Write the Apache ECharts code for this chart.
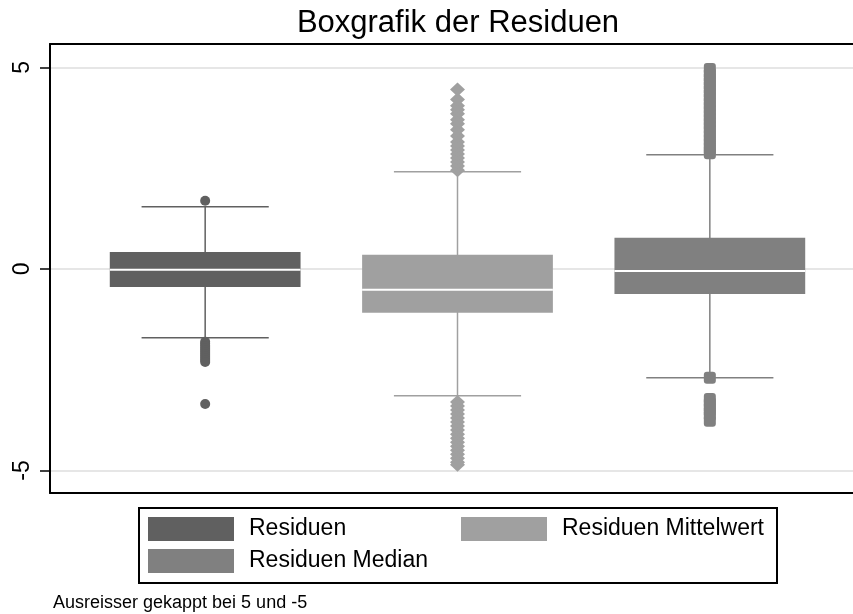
<!DOCTYPE html>
<html>
<head>
<meta charset="utf-8">
<script src="https://cdn.jsdelivr.net/npm/echarts@6/dist/echarts.min.js"></script>
<style>
  html, body { margin: 0; background: #fff; }
  #main { width: 853px; height: 614px; }
</style>
</head>
<body>
<div id="main"></div>
<script>
var categories = ['Residuen', 'Residuen Mittelwert', 'Residuen Median'];

// [unterer Whisker, Q1, Median, Q3, oberer Whisker]
var boxResiduen = [-1.71, -0.45, -0.02, 0.42, 1.54];
var boxMittelwert = [-3.15, -1.09, -0.52, 0.35, 2.41];
var boxMedian = [-2.70, -0.62, -0.05, 0.77, 2.83];

// Ausreisser (gekappt bei 5 und -5)
var outResiduen = [1.69, -1.81, -1.86, -1.91, -1.96, -2.01, -2.06, -2.11, -2.16, -2.21, -2.26, -2.31, -3.35];
var outMittelwert = [2.45, 2.55, 2.65, 2.75, 2.85, 2.95, 3.05, 3.15, 3.3, 3.45, 3.6, 3.7, 3.85, 3.95, 4.05, 4.2, 4.45,
  -3.3, -3.4, -3.5, -3.6, -3.7, -3.8, -3.9, -4.0, -4.1, -4.2, -4.3, -4.4, -4.5, -4.6, -4.7, -4.8, -4.86];
var outMedian = [2.87, 2.95, 3.05, 3.15, 3.25, 3.35, 3.45, 3.55, 3.65, 3.75, 3.85, 3.95, 4.05, 4.15, 4.25, 4.35,
  4.45, 4.55, 4.65, 4.75, 4.85, 4.96, -2.70, -3.23, -3.33, -3.43, -3.53, -3.63, -3.77];

var yTicks = [-5, 0, 5];
var colors = ['#606060', '#a0a0a0', '#808080'];
var symbols = ['circle', 'diamond', 'roundRect'];
var symbolSizes = [10, [15, 14], 12];

var font = "'Liberation Sans', Arial, sans-serif";
var chart = echarts.init(document.getElementById('main'));

function renderBox(params, api) {
  var x = api.value(0);
  var lo = api.coord([x, api.value(1)]);
  var q1 = api.coord([x, api.value(2)]);
  var med = api.coord([x, api.value(3)]);
  var q3 = api.coord([x, api.value(4)]);
  var hi = api.coord([x, api.value(5)]);
  var band = api.size([1, 0])[0];
  var half = band * 0.378;   // Boxbreite
  var cap = band * 0.252;    // Whisker-Enden
  var cx = lo[0];
  var color = api.visual('color');
  var line = { stroke: color, lineWidth: 1.5 };
  return {
    type: 'group',
    children: [
      { type: 'line', shape: { x1: cx, y1: hi[1], x2: cx, y2: lo[1] }, style: line },
      { type: 'line', shape: { x1: cx - cap, y1: hi[1], x2: cx + cap, y2: hi[1] }, style: line },
      { type: 'line', shape: { x1: cx - cap, y1: lo[1], x2: cx + cap, y2: lo[1] }, style: line },
      { type: 'rect', shape: { x: cx - half, y: q3[1], width: half * 2, height: q1[1] - q3[1] }, style: { fill: color } },
      { type: 'line', shape: { x1: cx - half, y1: med[1], x2: cx + half, y2: med[1] }, style: { stroke: '#fff', lineWidth: 2 } }
    ]
  };
}

var boxes = [boxResiduen, boxMittelwert, boxMedian];
var outliers = [outResiduen, outMittelwert, outMedian];
var series = [];

boxes.forEach(function (b, i) {
  series.push({
    name: categories[i],
    type: 'custom',
    xAxisIndex: 1,
    yAxisIndex: 1,
    itemStyle: { color: colors[i] },
    encode: { x: 0, y: [1, 2, 3, 4, 5] },
    renderItem: renderBox,
    data: [[i].concat(b)],
    z: 3
  });
});

outliers.forEach(function (o, i) {
  series.push({
    name: categories[i],
    type: 'scatter',
    xAxisIndex: 1,
    yAxisIndex: 1,
    symbol: symbols[i],
    symbolSize: symbolSizes[i],
    itemStyle: { color: colors[i], opacity: 1 },
    data: o.map(function (v) { return [i, v]; }),
    z: 4
  });
});

var option = {
  backgroundColor: '#fff',
  animation: false,
  title: {
    text: 'Boxgrafik der Residuen',
    left: 453,
    top: 3,
    textAlign: 'center',
    textStyle: { fontFamily: font, fontSize: 31, fontWeight: 'normal', color: '#000' }
  },
  legend: [{
    data: ['Residuen', 'Residuen Median'],
    orient: 'vertical',
    left: 148,
    top: 517,
    padding: 0,
    itemWidth: 86,
    itemHeight: 24,
    itemGap: 8,
    icon: 'rect',
    textStyle: { fontFamily: font, fontSize: 23, color: '#000', padding: [0, 0, 0, 10] }
  }, {
    data: ['Residuen Mittelwert'],
    orient: 'vertical',
    left: 461,
    top: 517,
    padding: 0,
    itemWidth: 86,
    itemHeight: 24,
    icon: 'rect',
    textStyle: { fontFamily: font, fontSize: 23, color: '#000', padding: [0, 0, 0, 10] }
  }],
  grid: [
    { left: 50, top: 44, width: 803, bottom: 121 },
    { left: 79, top: 44, width: 757, bottom: 121 }
  ],
  xAxis: [{
    gridIndex: 0,
    type: 'value',
    min: 0,
    max: 1,
    position: 'bottom',
    axisLine: { show: true, onZero: false, lineStyle: { color: '#000', width: 2 } },
    axisTick: { show: false },
    axisLabel: { show: false },
    splitLine: { show: false }
  }, {
    gridIndex: 1,
    type: 'category',
    data: categories,
    show: false
  }, {
    gridIndex: 0,
    type: 'value',
    min: 0,
    max: 1,
    position: 'top',
    axisLine: { show: true, onZero: false, lineStyle: { color: '#000', width: 2 } },
    axisTick: { show: false },
    axisLabel: { show: false },
    splitLine: { show: false }
  }],
  yAxis: [{
    gridIndex: 0,
    type: 'value',
    min: -5.56,
    max: 5.58,
    axisLine: { show: true, onZero: false, lineStyle: { color: '#000', width: 2 } },
    axisTick: { show: true, length: 10, customValues: yTicks, lineStyle: { color: '#000', width: 1.5 } },
    axisLabel: { customValues: yTicks, rotate: 90, margin: 16, fontSize: 23, color: '#000', fontFamily: font },
    splitLine: { show: true, lineStyle: { color: '#dedede', width: 1.5 } }
  }, {
    gridIndex: 1,
    type: 'value',
    min: -5.56,
    max: 5.58,
    show: false
  }],
  graphic: [{
    type: 'rect',
    shape: { x: 139, y: 508, width: 638, height: 75 },
    style: { fill: 'none', stroke: '#000', lineWidth: 2 }
  }, {
    type: 'text',
    left: 53,
    top: 594,
    style: { text: 'Ausreisser gekappt bei 5 und -5', font: '18px ' + font, fill: '#000' }
  }],
  series: series
};

chart.setOption(option);
</script>
</body>
</html>
